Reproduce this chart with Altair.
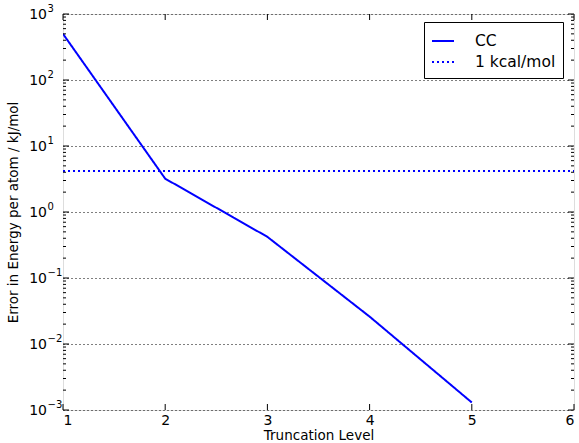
import altair as alt
import pandas as pd

levels = [1, 2, 3, 4, 5]
cc_error = [500, 3.2, 0.42, 0.026, 0.0013]
kcal_x = [1, 6]
kcal_value = 4.184
series_names = ["CC", "1 kcal/mol"]

x_ticks = [1, 2, 3, 4, 5, 6]
y_major = [1e-3, 1e-2, 1e-1, 1e0, 1e1, 1e2, 1e3]
y_exponents = ["−3", "−2", "−1", "0", "1", "2", "3"]
y_minor = [m * 10.0 ** k for k in range(-3, 3) for m in range(2, 10)]

W, H = 511, 396
FONT = "DejaVu Sans"

rows = [{"level": l, "err": e, "series": "CC"} for l, e in zip(levels, cc_error)]
rows += [{"level": l, "err": kcal_value, "series": "1 kcal/mol"} for l in kcal_x]
df = pd.DataFrame(rows)

xs = alt.Scale(domain=[1, 6], nice=False, zero=False)
ys = alt.Scale(type="log", domain=[1e-3, 1e3], nice=False)

legend = alt.Legend(title=None, orient="none", legendX=361, legendY=8,
                    strokeColor="black", fillColor="white", padding=7,
                    labelFontSize=15.5, labelFont=FONT, labelColor="black",
                    symbolType="stroke", symbolSize=484, symbolStrokeWidth=2,
                    rowPadding=0, labelOffset=20, cornerRadius=0)

lines = alt.Chart(df).mark_line(strokeWidth=2, clip=True).encode(
    x=alt.X("level:Q", scale=xs, title="Truncation Level",
            axis=alt.Axis(values=x_ticks, format="d", ticks=False, domain=False, grid=False,
                          labelFontSize=14, labelPadding=3, titleFontSize=13.5, titlePadding=1,
                          titleFont=FONT, labelFont=FONT,
                          titleFontWeight="normal", labelColor="black", titleColor="black")),
    y=alt.Y("err:Q", scale=ys, title="Error in Energy per atom / kJ/mol",
            axis=alt.Axis(values=y_major, labels=False, ticks=False, domain=False,
                          grid=True, gridColor="black", gridDash=[1, 3], gridWidth=1.1, gridOpacity=1,
                          titleFontSize=13.5, titleFont=FONT, titleX=-49.5, titleY=H / 2,
                          titleBaseline="middle", titleAlign="center",
                          titleFontWeight="normal", titleColor="black")),
    color=alt.Color("series:N", scale=alt.Scale(domain=series_names, range=["#0000ff", "#0000ff"]),
                    legend=legend),
    strokeDash=alt.StrokeDash("series:N", scale=alt.Scale(domain=series_names, range=[[1, 0], [2, 3]]),
                              legend=legend),
    detail="series:N",
)

ylab = pd.DataFrame({"err": y_major, "exp": y_exponents})
ten = alt.Chart(ylab).mark_text(align="right", baseline="middle", fontSize=14, font=FONT,
                                color="black", dy=1).encode(
    y=alt.Y("err:Q", scale=ys), x=alt.value(-16), text=alt.value("10"))
expo = alt.Chart(ylab).mark_text(align="left", baseline="middle", fontSize=10, font=FONT,
                                 color="black", dy=-5).encode(
    y=alt.Y("err:Q", scale=ys), x=alt.value(-15.5), text="exp:N")

xt = pd.DataFrame({"level": x_ticks})
ymaj = pd.DataFrame({"err": y_major})
ymin = pd.DataFrame({"err": y_minor})

tick_x_bot = alt.Chart(xt).mark_rule(color="black", strokeWidth=1).encode(
    x=alt.X("level:Q", scale=xs), y=alt.value(H), y2=alt.value(H - 6))
tick_x_top = alt.Chart(xt).mark_rule(color="black", strokeWidth=1).encode(
    x=alt.X("level:Q", scale=xs), y=alt.value(0), y2=alt.value(6))
tick_y_maj_l = alt.Chart(ymaj).mark_rule(color="black", strokeWidth=1).encode(
    y=alt.Y("err:Q", scale=ys), x=alt.value(0), x2=alt.value(6))
tick_y_maj_r = alt.Chart(ymaj).mark_rule(color="black", strokeWidth=1).encode(
    y=alt.Y("err:Q", scale=ys), x=alt.value(W), x2=alt.value(W - 6))
tick_y_min_l = alt.Chart(ymin).mark_rule(color="black", strokeWidth=1).encode(
    y=alt.Y("err:Q", scale=ys), x=alt.value(0), x2=alt.value(3))
tick_y_min_r = alt.Chart(ymin).mark_rule(color="black", strokeWidth=1).encode(
    y=alt.Y("err:Q", scale=ys), x=alt.value(W), x2=alt.value(W - 3))

chart = alt.layer(
    lines, ten, expo, tick_x_bot, tick_x_top, tick_y_maj_l, tick_y_maj_r, tick_y_min_l, tick_y_min_r
).properties(
    width=W, height=H,
    autosize=alt.AutoSizeParams(type="none"),
    padding={"left": 63, "top": 14, "right": 5, "bottom": 33},
).configure_view(stroke="black", strokeWidth=1.2).configure(background="white")

chart.save("out.html", embed_options={"renderer": "svg", "actions": False})
